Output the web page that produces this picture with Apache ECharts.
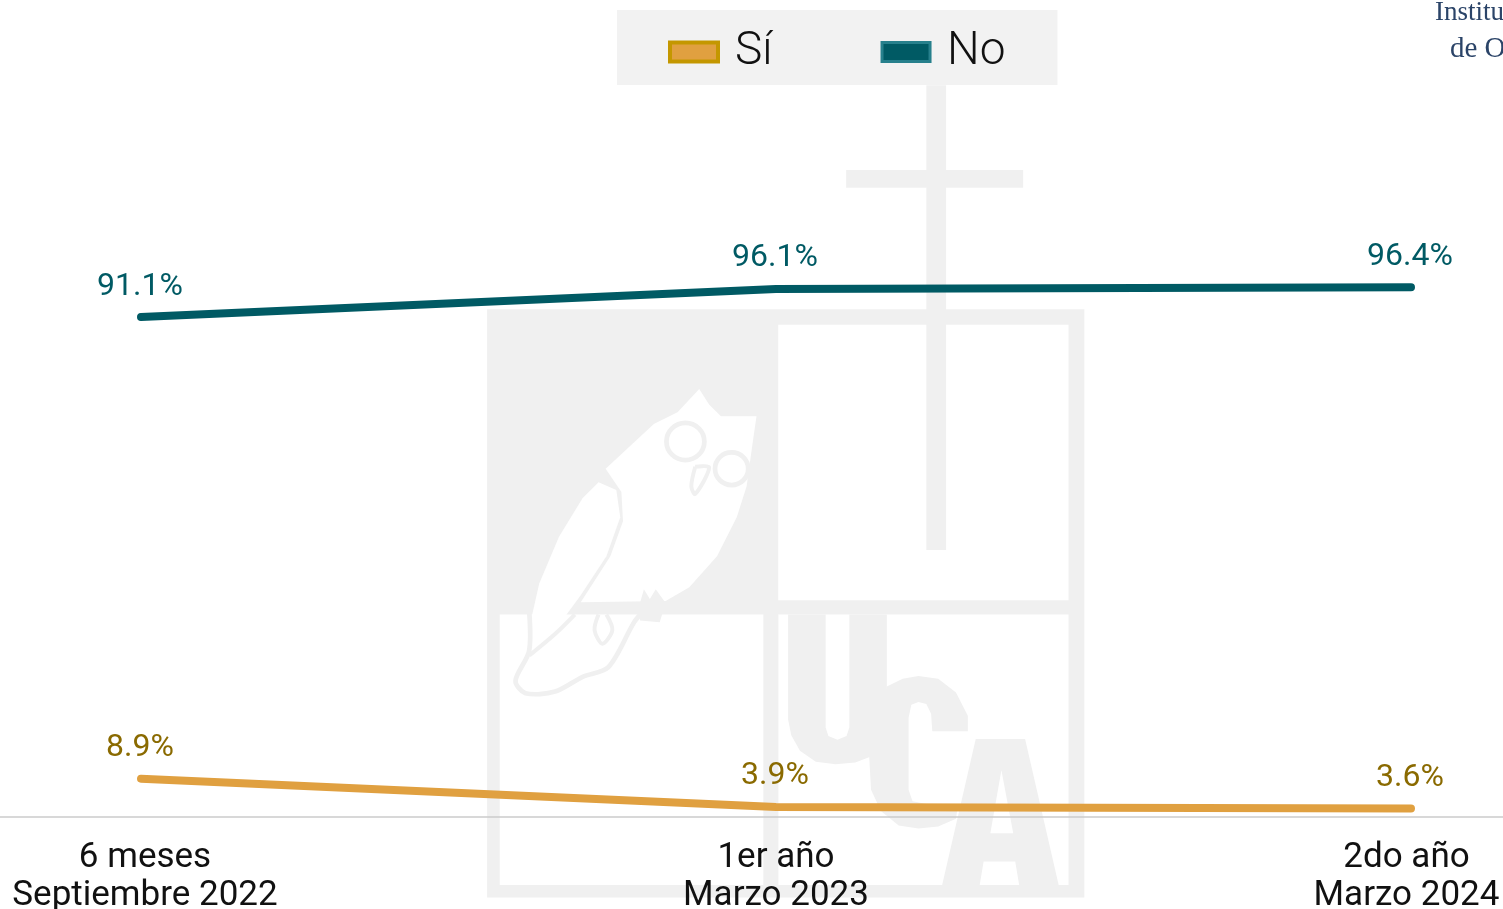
<!DOCTYPE html>
<html>
<head>
<meta charset="utf-8">
<title>Sí / No</title>
<style>
  html, body { margin: 0; padding: 0; background: #fff; overflow: hidden; }
  #chart { width: 1503px; height: 909px; }
</style>
<script src="https://cdn.jsdelivr.net/npm/echarts@6/dist/echarts.min.js"></script>
</head>
<body>
<div id="chart"></div>
<script>
const categories = ['6 meses\nSeptiembre 2022', '1er año\nMarzo 2023', '2do año\nMarzo 2024'];
const siValues = [8.9, 3.9, 3.6];
const noValues = [91.1, 96.1, 96.4];

const logoGray = '#f0f0f0';
const labelFont = 'Roboto';

// marca de agua: coordenadas del recorte ampliado, ver logoGroup
function poly(points, fill, smooth) {
  return { type: 'polygon', shape: { points: points, smooth: smooth || 0 }, style: { fill: fill } };
}
function stroke(points, width) {
  return { type: 'polyline', shape: { points: points, smooth: 0.3 }, style: { stroke: logoGray, lineWidth: width, fill: null } };
}
function rect(x, y, w, h, fill) {
  return { type: 'rect', shape: { x: x, y: y, width: w, height: h }, style: { fill: fill || logoGray } };
}

const logoGroup = {
  type: 'group',
  x: 480,
  y: 299.5,
  scaleX: 0.395,
  scaleY: 0.389,
  silent: true,
  children: [
    // marco
    rect(18, 25, 1512, 1512),
    rect(755, 65, 735, 708, '#fff'),
    rect(50, 810, 668, 695, '#fff'),
    rect(755, 810, 735, 695, '#fff'),
    // cruz
    rect(1130, -551, 50, 1195),
    rect(927, -333, 448, 46),
    // buho
    poly([[555, 230], [580, 270], [610, 300], [700, 300], [690, 370], [675, 480], [650, 560], [600, 660], [530, 740], [470, 775], [255, 778], [330, 660], [362, 570], [358, 495], [318, 435], [440, 320], [500, 290]], '#fff'),
    poly([[300, 470], [345, 490], [355, 560], [320, 660], [255, 760], [190, 850], [130, 905], [130, 820], [150, 730], [200, 610], [260, 510]], '#fff'),
    { type: 'circle', shape: { cx: 520, cy: 365, r: 48 }, style: { fill: '#fff', stroke: logoGray, lineWidth: 12 } },
    { type: 'circle', shape: { cx: 637, cy: 435, r: 42 }, style: { fill: '#fff', stroke: logoGray, lineWidth: 12 } },
    stroke([[545, 430], [580, 432], [545, 500], [535, 480], [545, 430]], 10),
    stroke([[125, 808], [124, 905], [90, 980], [115, 1012], [190, 1008], [260, 970], [325, 945], [390, 830], [415, 800]], 12),
    stroke([[240, 810], [190, 860], [125, 915]], 10),
    stroke([[300, 810], [290, 850], [310, 885], [335, 850], [320, 810]], 10),
    poly([[405, 780], [415, 745], [430, 770], [445, 745], [470, 780], [455, 830], [405, 825]], logoGray),
    rect(718, 810, 37, 695),
    // U
    poly([[780, 810], [875, 810], [875, 1100], [882, 1122], [905, 1132], [928, 1122], [935, 1100], [935, 810], [1030, 810], [1030, 1000], [990, 1175], [950, 1190], [900, 1195], [850, 1188], [810, 1160], [788, 1120], [780, 1080]], logoGray),
    // C
    poly([[1030, 995], [1070, 975], [1110, 968], [1160, 975], [1205, 1010], [1235, 1070], [1235, 1110], [1145, 1110], [1142, 1065], [1130, 1040], [1110, 1035], [1092, 1042], [1085, 1075], [1085, 1260], [1095, 1290], [1130, 1297], [1210, 1300], [1205, 1335], [1160, 1355], [1110, 1360], [1060, 1352], [1015, 1315], [990, 1260], [985, 1170]], logoGray),
    // A
    poly([[1255, 1130], [1380, 1130], [1465, 1505], [1365, 1505], [1355, 1445], [1275, 1445], [1265, 1505], [1170, 1505]], logoGray),
    poly([[1320, 1210], [1292, 1372], [1350, 1372]], '#fff')
  ]
};

const chart = echarts.init(document.getElementById('chart'));

// las etiquetas de los extremos no quedan centradas en su punto
const labelStyle = { color: '#111', fontFamily: labelFont, fontSize: 35, lineHeight: 38 };

const option = {
  backgroundColor: '#fff',
  animation: false,
  textStyle: { fontFamily: labelFont },
  grid: { left: -176.5, width: 1905, top: 267, height: 550, outerBoundsMode: 'none' },
  legend: {
    left: 617,
    top: 10,
    backgroundColor: '#f2f2f2',
    padding: [7, 52, 6, 51],
    itemWidth: 48,
    itemHeight: 19,
    itemGap: 108,
    icon: 'rect',
    selectedMode: false,
    formatter: '{t|{name}}',
    textStyle: {
      rich: {
        t: {
          fontFamily: 'Roboto',
          fontWeight: 300,
          fontSize: 46,
          color: '#111',
          lineHeight: 54,
          height: 54,
          verticalAlign: 'bottom',
          padding: [8, 0, 0, 12]
        }
      }
    },
    data: [
      { name: 'Sí', itemStyle: { color: '#e0a040', borderColor: '#c49700', borderWidth: 4 } },
      { name: 'No', itemStyle: { color: '#005a64', borderColor: '#27808c', borderWidth: 3 } }
    ]
  },
  xAxis: {
    type: 'category',
    data: categories,
    axisTick: { show: false },
    axisLine: { lineStyle: { color: '#cbcbcb', width: 1.5 } },
    axisLabel: {
      color: '#111',
      fontFamily: labelFont,
      fontSize: 35,
      lineHeight: 38,
      margin: 22,
      formatter: function (value, index) {
        const style = ['first', 'middle', 'last'][index];
        return value.split('\n').map(t => '{' + style + '|' + t + '}').join('\n');
      },
      rich: {
        first: Object.assign({ padding: [0, 0, 0, 8] }, labelStyle),
        middle: labelStyle,
        last: Object.assign({ padding: [0, 9, 0, 0] }, labelStyle)
      }
    }
  },
  yAxis: { type: 'value', show: false, min: 2.1, max: 100 },
  series: [
    {
      name: 'Sí',
      type: 'line',
      data: siValues,
      symbol: 'circle',
      symbolSize: 1,
      lineStyle: { color: '#e0a040', width: 8, cap: 'round' },
      itemStyle: { color: '#e0a040' },
      label: { show: true, position: 'top', distance: 14, offset: [-1, 0], color: '#8a6a00', fontFamily: labelFont, fontSize: 32, formatter: p => p.value + '%' }
    },
    {
      name: 'No',
      type: 'line',
      data: noValues,
      symbol: 'circle',
      symbolSize: 1,
      lineStyle: { color: '#005a64', width: 8, cap: 'round' },
      itemStyle: { color: '#005a64' },
      label: { show: true, position: 'top', distance: 14, offset: [-1, 0], color: '#005a64', fontFamily: labelFont, fontSize: 32, formatter: p => p.value + '%' }
    }
  ],
  graphic: [
    logoGroup,
    { type: 'text', x: 1435, y: -1, silent: true, style: { text: 'Instituto', fill: '#2b4468', font: '27px "Liberation Serif"' } },
    { type: 'text', x: 1450, y: 35, silent: true, style: { text: 'de Opinión', fill: '#2b4468', font: '29px "Liberation Serif"' } }
  ]
};

chart.setOption(option);
</script>
</body>
</html>
